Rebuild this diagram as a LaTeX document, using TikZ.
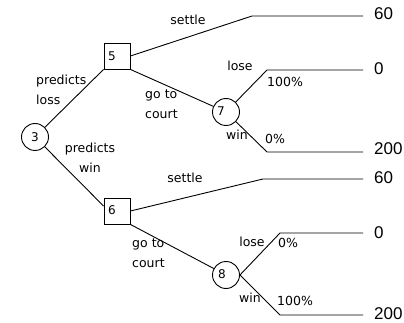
\documentclass[tikz,border=0pt]{standalone}
\usepackage{fontspec}
\setmainfont{DejaVu Sans}
\newfontfamily\valfont{Liberation Sans}
\usetikzlibrary{calc}
\tikzset{
  lbl/.style={inner sep=0pt, font=\fontsize{12.5}{19.5}\selectfont},
  val/.style={inner sep=0pt, anchor=west, font=\valfont\fontsize{17}{20}\selectfont},
  chance/.style={draw, circle, line width=0.9pt, minimum size=27pt, inner sep=0pt},
  decision/.style={draw, rectangle, line width=0.9pt, minimum size=26pt, inner sep=0pt},
  num/.style={inner sep=0pt, font=\fontsize{12}{14}\selectfont},
  edge/.style={line width=0.9pt},
}
\begin{document}
\begin{tikzpicture}[x=1pt,y=-1pt]
\useasboundingbox (0,0) rectangle (404,323);
% nodes
\node[chance] (c3) at (35,137) {};
\node[num] at (35,137) {3};
\node[decision] (b5) at (117,56) {};
\node[num] at (112,56) {5};
\node[decision] (b6) at (117,211) {};
\node[num] at (112,210) {6};
\node[chance] (c7) at (226,112) {};
\node[num] at (221,111) {7};
\node[chance] (c8) at (226,275) {};
\node[num] at (222,274) {8};
% bend points and ends
\coordinate (s5) at (252,16);
\coordinate (e5) at (363,16);
\coordinate (l7) at (267,70);
\coordinate (el7) at (363,70);
\coordinate (w7) at (267,152);
\coordinate (ew7) at (363,152);
\coordinate (s6) at (263,179);
\coordinate (e6) at (363,179);
\coordinate (l8) at (280,233);
\coordinate (el8) at (363,233);
\coordinate (w8) at (280,315);
\coordinate (ew8) at (363,315);
\coordinate (b6in) at ($(b6.west)+(0,-5)$);
% connectors
\draw[edge] (c3) -- (b5.south west);
\draw[edge] (c3) -- (b6in);
\draw[edge] (b5.east) -- (s5) -- (e5);
\draw[edge] (b5.south east) -- (c7);
\draw[edge] (c7) -- (l7) -- (el7);
\draw[edge] (c7) -- (w7) -- (ew7);
\draw[edge] (b6.east) -- (s6) -- (e6);
\draw[edge] (b6.south east) -- (c8);
\draw[edge] (c8.east) -- (l8) -- (el8);
\draw[edge] (c8.east) -- (w8) -- (ew8);
% values
\node[val] (v1) at (374,14) {60};
\node[val] (v2) at (374,69) {0};
\node[val] (v3) at (374,149) {200};
\node[val] (v4) at (374,178) {60};
\node[val] (v5) at (374,233) {0};
\node[val] (v6) at (374,314) {200};
% labels
\node[lbl] at (188,20) {settle};
\node[lbl, align=left, anchor=west] at (36,90) {predicts\\loss};
\node[lbl, align=left, anchor=west] at (145,104) {go to\\court};
\node[lbl, align=center] at (90,158) {predicts\\win};
\node[lbl] at (240,66) {lose};
\node[lbl, anchor=west] at (267,82) {100\%};
\node[lbl] at (237,135) {win};
\node[lbl, anchor=west] at (265,139) {0\%};
\node[lbl] at (185,178) {settle};
\node[lbl, align=left, anchor=west] at (132,253) {go to\\court};
\node[lbl] at (252,242) {lose};
\node[lbl, anchor=west] at (278,243) {0\%};
\node[lbl] at (250,298) {win};
\node[lbl, anchor=west] at (277,301) {100\%};
\end{tikzpicture}
\end{document}
